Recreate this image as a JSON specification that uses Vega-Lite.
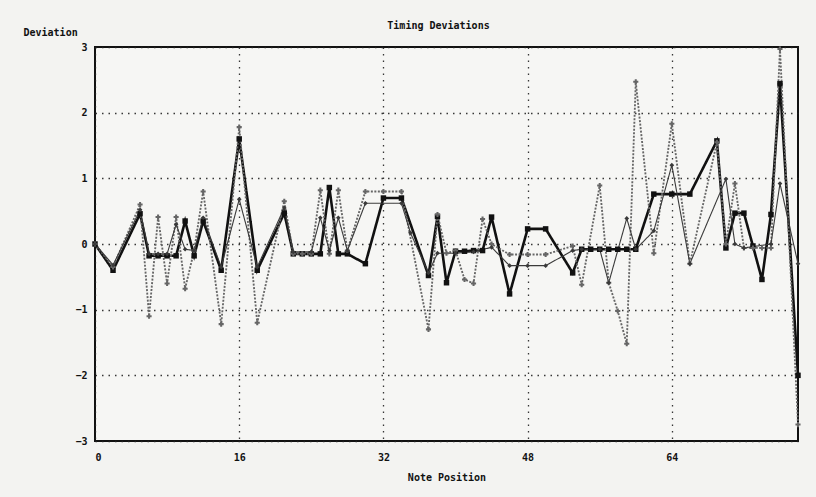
{
  "$schema": "https://vega.github.io/schema/vega-lite/v6.json",
  "autosize": {"type": "none"},
  "width": 703,
  "height": 394,
  "padding": {"left": 95, "top": 47, "right": 18, "bottom": 56},
  "background": "#f3f3f1",
  "title": {"text": "Timing Deviations", "font": "DejaVu Sans Mono", "fontSize": 10, "fontWeight": "bold", "color": "#111", "anchor": "middle", "offset": -4, "dx": -8},
  "config": {
    "view": {"stroke": "#111", "strokeWidth": 2, "fill": "#f6f6f4"},
    "axis": {"domain": false, "ticks": false, "grid": true, "gridColor": "#222", "gridDash": [1.5, 5], "gridWidth": 1.3, "gridOpacity": 0.9,
      "labelFont": "DejaVu Sans Mono", "labelFontSize": 10, "labelFontWeight": "bold", "labelColor": "#111",
      "titleFont": "DejaVu Sans Mono", "titleFontSize": 10, "titleFontWeight": "bold", "titleColor": "#111"}
  },
  "data": {"values": [
    {"s":"S1","n":0,"v":0},{"s":"S1","n":2,"v":-0.4},{"s":"S1","n":5,"v":0.46},{"s":"S1","n":6,"v":-0.18},{"s":"S1","n":7,"v":-0.18},{"s":"S1","n":8,"v":-0.18},{"s":"S1","n":9,"v":-0.18},{"s":"S1","n":10,"v":0.35},{"s":"S1","n":11,"v":-0.18},{"s":"S1","n":12,"v":0.35},{"s":"S1","n":14,"v":-0.4},{"s":"S1","n":16,"v":1.6},{"s":"S1","n":18,"v":-0.4},{"s":"S1","n":21,"v":0.47},{"s":"S1","n":22,"v":-0.15},{"s":"S1","n":23,"v":-0.15},{"s":"S1","n":24,"v":-0.15},{"s":"S1","n":25,"v":-0.15},{"s":"S1","n":26,"v":0.86},{"s":"S1","n":27,"v":-0.15},{"s":"S1","n":28,"v":-0.15},{"s":"S1","n":30,"v":-0.3},{"s":"S1","n":32,"v":0.7},{"s":"S1","n":34,"v":0.7},{"s":"S1","n":37,"v":-0.48},{"s":"S1","n":38,"v":0.42},{"s":"S1","n":39,"v":-0.59},{"s":"S1","n":40,"v":-0.11},{"s":"S1","n":41,"v":-0.11},{"s":"S1","n":42,"v":-0.1},{"s":"S1","n":43,"v":-0.1},{"s":"S1","n":44,"v":0.41},{"s":"S1","n":46,"v":-0.76},{"s":"S1","n":48,"v":0.23},{"s":"S1","n":50,"v":0.23},{"s":"S1","n":53,"v":-0.44},{"s":"S1","n":54,"v":-0.08},{"s":"S1","n":55,"v":-0.08},{"s":"S1","n":56,"v":-0.08},{"s":"S1","n":57,"v":-0.08},{"s":"S1","n":58,"v":-0.08},{"s":"S1","n":59,"v":-0.08},{"s":"S1","n":60,"v":-0.08},{"s":"S1","n":62,"v":0.76},{"s":"S1","n":64,"v":0.76},{"s":"S1","n":66,"v":0.76},{"s":"S1","n":69,"v":1.57},{"s":"S1","n":70,"v":-0.06},{"s":"S1","n":71,"v":0.47},{"s":"S1","n":72,"v":0.47},{"s":"S1","n":73,"v":-0.03},{"s":"S1","n":74,"v":-0.54},{"s":"S1","n":75,"v":0.45},{"s":"S1","n":76,"v":2.44},{"s":"S1","n":78,"v":-2.0},
    {"s":"S2","n":0,"v":0},{"s":"S2","n":2,"v":-0.35},{"s":"S2","n":5,"v":0.6},{"s":"S2","n":6,"v":-1.1},{"s":"S2","n":7,"v":0.41},{"s":"S2","n":8,"v":-0.6},{"s":"S2","n":9,"v":0.41},{"s":"S2","n":10,"v":-0.68},{"s":"S2","n":11,"v":-0.1},{"s":"S2","n":12,"v":0.8},{"s":"S2","n":14,"v":-1.22},{"s":"S2","n":16,"v":1.78},{"s":"S2","n":18,"v":-1.2},{"s":"S2","n":21,"v":0.65},{"s":"S2","n":22,"v":-0.15},{"s":"S2","n":23,"v":-0.15},{"s":"S2","n":24,"v":-0.15},{"s":"S2","n":25,"v":0.82},{"s":"S2","n":26,"v":-0.15},{"s":"S2","n":27,"v":0.82},{"s":"S2","n":28,"v":-0.1},{"s":"S2","n":30,"v":0.8},{"s":"S2","n":32,"v":0.8},{"s":"S2","n":34,"v":0.8},{"s":"S2","n":37,"v":-1.3},{"s":"S2","n":38,"v":0.45},{"s":"S2","n":39,"v":-0.14},{"s":"S2","n":40,"v":-0.1},{"s":"S2","n":41,"v":-0.54},{"s":"S2","n":42,"v":-0.6},{"s":"S2","n":43,"v":0.38},{"s":"S2","n":44,"v":0.0},{"s":"S2","n":46,"v":-0.16},{"s":"S2","n":48,"v":-0.16},{"s":"S2","n":50,"v":-0.16},{"s":"S2","n":53,"v":-0.03},{"s":"S2","n":54,"v":-0.62},{"s":"S2","n":56,"v":0.89},{"s":"S2","n":57,"v":-0.59},{"s":"S2","n":58,"v":-1.02},{"s":"S2","n":59,"v":-1.52},{"s":"S2","n":60,"v":2.47},{"s":"S2","n":62,"v":-0.14},{"s":"S2","n":64,"v":1.83},{"s":"S2","n":66,"v":-0.3},{"s":"S2","n":69,"v":1.55},{"s":"S2","n":70,"v":0.0},{"s":"S2","n":71,"v":0.92},{"s":"S2","n":72,"v":-0.06},{"s":"S2","n":73,"v":-0.06},{"s":"S2","n":74,"v":-0.06},{"s":"S2","n":75,"v":-0.06},{"s":"S2","n":76,"v":2.97},{"s":"S2","n":78,"v":-2.75},
    {"s":"S3","n":0,"v":0},{"s":"S3","n":2,"v":-0.32},{"s":"S3","n":5,"v":0.52},{"s":"S3","n":6,"v":-0.15},{"s":"S3","n":7,"v":-0.15},{"s":"S3","n":8,"v":-0.15},{"s":"S3","n":9,"v":0.3},{"s":"S3","n":10,"v":-0.08},{"s":"S3","n":11,"v":-0.1},{"s":"S3","n":12,"v":0.4},{"s":"S3","n":14,"v":-0.35},{"s":"S3","n":16,"v":0.68},{"s":"S3","n":18,"v":-0.35},{"s":"S3","n":21,"v":0.55},{"s":"S3","n":22,"v":-0.12},{"s":"S3","n":24,"v":-0.12},{"s":"S3","n":25,"v":0.4},{"s":"S3","n":26,"v":-0.1},{"s":"S3","n":27,"v":0.4},{"s":"S3","n":28,"v":-0.1},{"s":"S3","n":30,"v":0.62},{"s":"S3","n":34,"v":0.62},{"s":"S3","n":35,"v":0.17},{"s":"S3","n":37,"v":-0.44},{"s":"S3","n":38,"v":-0.14},{"s":"S3","n":40,"v":-0.14},{"s":"S3","n":42,"v":-0.12},{"s":"S3","n":44,"v":-0.05},{"s":"S3","n":46,"v":-0.33},{"s":"S3","n":48,"v":-0.33},{"s":"S3","n":50,"v":-0.33},{"s":"S3","n":53,"v":-0.1},{"s":"S3","n":54,"v":-0.08},{"s":"S3","n":56,"v":-0.08},{"s":"S3","n":57,"v":-0.59},{"s":"S3","n":59,"v":0.39},{"s":"S3","n":60,"v":-0.08},{"s":"S3","n":62,"v":0.2},{"s":"S3","n":64,"v":1.2},{"s":"S3","n":66,"v":-0.3},{"s":"S3","n":70,"v":0.99},{"s":"S3","n":71,"v":0.0},{"s":"S3","n":72,"v":-0.06},{"s":"S3","n":75,"v":0.0},{"s":"S3","n":76,"v":0.92},{"s":"S3","n":78,"v":-0.3}
  ]},
  "encoding": {
    "x": {"field": "n", "type": "quantitative", "scale": {"domain": [0, 78], "nice": false, "zero": false},
      "axis": {"values": [0, 16, 32, 48, 64], "title": "Note Position", "labelPadding": 11, "titleY": 36, "titleBaseline": "middle"}},
    "y": {"field": "v", "type": "quantitative", "scale": {"domain": [-3, 3], "nice": false},
      "axis": {"values": [-3, -2, -1, 0, 1, 2, 3], "title": "Deviation", "labelPadding": 8, "titleAngle": 0, "titleX": -72, "titleY": -15, "titleAlign": "left", "titleBaseline": "middle"}},
    "color": {"field": "s", "type": "nominal", "legend": null, "scale": {"domain": ["S1", "S2", "S3"], "range": ["#111111", "#666666", "#3a3a3a"]}}
  },
  "layer": [
    {"mark": {"type": "line", "strokeJoin": "miter"},
     "encoding": {
       "strokeWidth": {"field": "s", "type": "nominal", "legend": null, "scale": {"domain": ["S1", "S2", "S3"], "range": [2.6, 1.1, 1.2]}},
       "strokeDash": {"field": "s", "type": "nominal", "legend": null, "scale": {"domain": ["S1", "S2", "S3"], "range": [[1, 0], [2, 1.5], [1, 0]]}}
     }},
    {"mark": {"type": "point", "filled": true, "opacity": 1},
     "encoding": {
       "shape": {"field": "s", "type": "nominal", "legend": null, "scale": {"domain": ["S1", "S2", "S3"], "range": ["square", "cross", "diamond"]}},
       "size": {"field": "s", "type": "nominal", "legend": null, "scale": {"domain": ["S1", "S2", "S3"], "range": [30, 22, 14]}}
     }}
  ]
}
